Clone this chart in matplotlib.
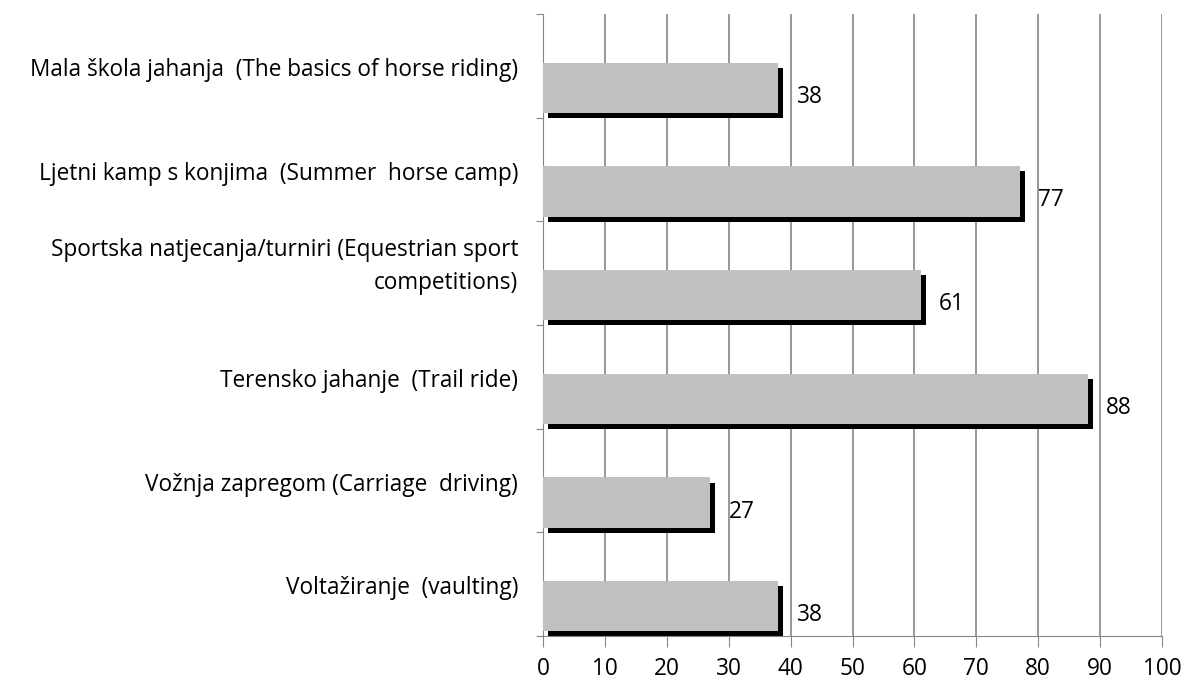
#!/usr/bin/env python3
import matplotlib
matplotlib.use("Agg")
import matplotlib.pyplot as plt
import numpy as np

categories = [
    "Mala škola jahanja  (The basics of horse riding)",
    "Ljetni kamp s konjima  (Summer  horse camp)",
    "Sportska natjecanja/turniri (Equestrian sport\ncompetitions)",
    "Terensko jahanje  (Trail ride)",
    "Vožnja zapregom (Carriage  driving)",
    "Voltažiranje  (vaulting)",
]
values = [38, 77, 61, 88, 27, 38]
xticks = list(range(0, 101, 10))

plt.rcParams["font.family"] = ["Open Sans", "DejaVu Sans"]

fig = plt.figure(figsize=(11.9, 6.95), dpi=100)
ax = fig.add_axes([0.4563, 0.0849, 0.5202, 0.8952])

n = len(categories)
grid_c = "#868686"
bar_top, bar_h = 0.47, 0.485
sx, sy = 0.8, 0.05
fs = 16.3

for i, (cat, v) in enumerate(zip(categories, values)):
    # shadow then bar
    ax.add_patch(plt.Rectangle((sx, i + bar_top + sy), v, bar_h,
                               facecolor="black", edgecolor="none", zorder=2))
    ax.add_patch(plt.Rectangle((0, i + bar_top), v, bar_h,
                               facecolor="#c0c0c0", edgecolor="none", zorder=3))
    ax.text(v + sx + 2.2, i + 0.8, str(v), ha="left", va="center",
            fontsize=fs, zorder=4)
    ly = i + (0.44 if "\n" in cat else 0.54)
    ax.text(-4, ly, cat, ha="right", va="center", fontsize=fs,
            linespacing=1.5, clip_on=False)

ax.set_xlim(0, 100)
ax.set_ylim(n, 0)
ax.set_xticks(xticks)
ax.set_xticklabels([str(t) for t in xticks], fontsize=fs)
ax.set_yticks(np.arange(0, n + 1))
ax.set_yticklabels([])
for t in xticks:
    ax.axvline(t, color=grid_c, lw=1.2, zorder=1)

for side in ["top", "right"]:
    ax.spines[side].set_visible(False)
ax.spines["left"].set_color(grid_c)
ax.spines["bottom"].set_color(grid_c)
ax.tick_params(axis="x", length=8, color=grid_c, pad=7)
ax.tick_params(axis="y", length=5, color=grid_c)

fig.savefig("out.png", dpi=100)
